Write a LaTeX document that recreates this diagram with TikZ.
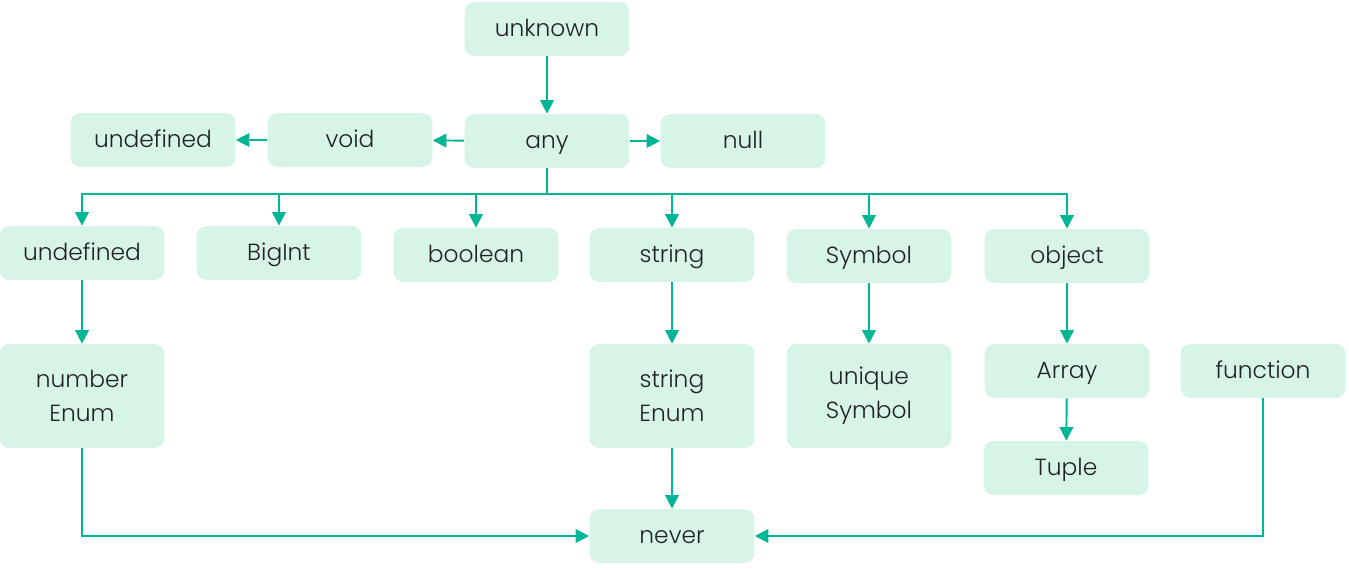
\documentclass[tikz,border=0pt]{standalone}
\usepackage{fontspec}
\setmainfont{Poppins Light}
\usepackage{xcolor}
\usetikzlibrary{arrows.meta,calc}
\definecolor{boxgreen}{RGB}{214,245,230}
\definecolor{linkgreen}{RGB}{0,182,148}
\definecolor{textgray}{RGB}{34,34,34}

\begin{document}
\begin{tikzpicture}[x=0.02cm, y=-0.02cm, every node/.style={font=\fontsize{13.3}{19.3}\selectfont}]
  \tikzset{
      typebox/.style={fill=boxgreen, rounded corners=0.2cm, minimum width=3.3cm, minimum height=1.08cm, align=center, text=textgray, inner sep=0pt, text height=0.95em, text depth=0.1em},
      tallbox/.style={typebox, minimum height=2.08cm, text height=, text depth=},
      link/.style={draw=linkgreen, line width=1.1pt, -{Triangle[length=0.27cm, width=0.27cm]}}
  }
  \useasboundingbox (0,0) rectangle (1349,569);

  % top rows
  \node[typebox] (unknown) at (547,29)  {unknown};
  \node[typebox] (any)     at (547,141) {any};
  \node[typebox] (void)    at (350,140) {void};
  \node[typebox] (undefA)  at (153,140) {undefined};
  \node[typebox] (null)    at (743,141) {null};

  % children of any
  \node[typebox] (undefB)  at (82,253)   {undefined};
  \node[typebox] (bigint)  at (279,253)  {BigInt};
  \node[typebox] (boolean) at (476,255)  {boolean};
  \node[typebox] (string)  at (672,255)  {string};
  \node[typebox] (symbol)  at (869,256)  {Symbol};
  \node[typebox] (object)  at (1067,256) {object};

  % lower rows
  \node[tallbox] (numenum) at (82,396)   {number\\Enum};
  \node[tallbox] (strenum) at (672,396)  {string\\Enum};
  \node[tallbox] (usymbol) at (869,396)  {unique\\Symbol};
  \node[typebox] (array)   at (1067,371) {Array};
  \node[typebox] (func)    at (1263,371) {function};
  \node[typebox] (tuple)   at (1066,468) {Tuple};
  \node[typebox] (never)   at (672,536)  {never};

  \draw[link] (unknown) -- (any);
  \draw[link] (any) -- (void);
  \draw[link] (void) -- (undefA);
  \draw[link] (any) -- (null);
  \foreach \t in {undefB,bigint,boolean,string,symbol,object}
      \draw[link] (any.south) -- ++(0,26) -| (\t.north);

  \draw[link] (undefB) -- (numenum);
  \draw[link] (string) -- (strenum);
  \draw[link] (symbol) -- (usymbol);
  \draw[link] (object) -- (array);
  \draw[link] (array) -- (tuple);
  \draw[link] (strenum) -- (never);
  \draw[link] (numenum.south) |- (never.west);
  \draw[link] (func.south) |- (never.east);
\end{tikzpicture}
\end{document}
